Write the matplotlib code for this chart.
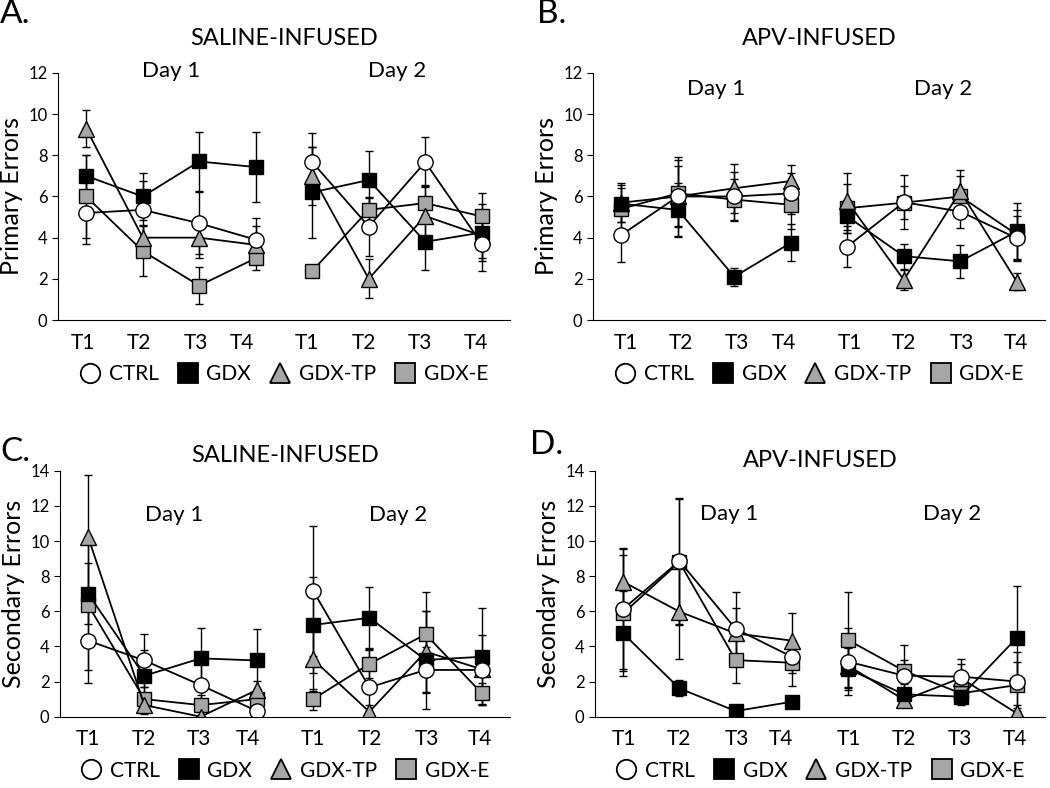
import matplotlib
matplotlib.use("Agg")
import matplotlib.pyplot as plt
from matplotlib.lines import Line2D

plt.rcParams['font.family'] = ['Lato', 'DejaVu Sans']

# trial labels and groups
trials = ["T1", "T2", "T3", "T4", "T1", "T2", "T3", "T4"]
groups = ["CTRL", "GDX", "GDX-TP", "GDX-E"]

# A. primary errors, saline
a_ctrl = [5.2, 5.35, 4.7, 3.9, 7.67, 4.54, 7.67, 3.7]
a_ctrl_err = [1.5, 1.4, 1.5, 1.05, 1.4, 1.45, 1.2, 1.3]
a_gdx = [7.0, 6.0, 7.7, 7.43, 6.2, 6.8, 3.8, 4.25]
a_gdx_err = [1.0, 1.15, 1.43, 1.7, 2.2, 1.4, 1.35, 1.4]
a_tp = [9.3, 4.0, 4.0, 3.65, 7.0, 2.0, 5.05, 4.1]
a_tp_err = [0.9, 0.6, 1.0, 0.9, 1.4, 0.95, 1.5, 1.1]
a_e = [6.0, 3.35, 1.67, 3.0, 2.38, 5.35, 5.68, 5.03]
a_e_err = [2.0, 1.2, 0.9, 0.55, 0.25, 0.6, 0.85, 1.15]

# B. primary errors, APV
b_ctrl = [4.13, 6.0, 6.0, 6.15, 3.57, 5.72, 5.27, 3.97]
b_ctrl_err = [1.3, 1.5, 1.2, 1.0, 1.0, 1.3, 0.8, 1.1]
b_gdx = [5.65, 5.35, 2.1, 3.75, 5.03, 3.1, 2.85, 4.3]
b_gdx_err = [0.9, 1.3, 0.45, 0.9, 0.8, 0.6, 0.8, 1.4]
b_tp = [5.7, 6.0, 6.4, 6.75, 5.76, 1.95, 6.25, 1.86]
b_tp_err = [0.95, 1.9, 1.2, 0.8, 1.4, 0.5, 1.05, 0.4]
b_e = [5.4, 6.15, 5.85, 5.6, 5.43, 5.7, 6.0, 4.15]
b_e_err = [1.0, 1.6, 1.0, 1.2, 1.2, 0.8, 1.0, 1.2]

# C. secondary errors, saline
c_ctrl = [4.33, 3.2, 1.8, 0.32, 7.17, 1.67, 2.66, 2.66]
c_ctrl_err = [2.4, 1.5, 1.2, 0.3, 3.7, 2.2, 1.3, 2.0]
c_gdx = [7.0, 2.33, 3.32, 3.2, 5.22, 5.63, 3.23, 3.41]
c_gdx_err = [1.75, 1.45, 1.75, 1.8, 2.75, 1.73, 2.8, 2.75]
c_tp = [10.24, 0.66, 0.0, 1.52, 3.26, 0.28, 3.7, 2.7]
c_tp_err = [3.5, 0.5, 0.0, 0.5, 1.8, 0.4, 2.3, 0.4]
c_e = [6.36, 1.0, 0.66, 1.0, 1.0, 3.0, 4.69, 1.33]
c_e_err = [3.7, 0.7, 0.6, 0.6, 0.6, 0.8, 2.4, 0.6]

# D. secondary errors, APV
d_ctrl = [6.13, 8.86, 5.0, 3.41, 3.13, 2.33, 2.28, 2.0]
d_ctrl_err = [3.4, 3.6, 2.1, 0.9, 1.9, 1.75, 1.0, 1.7]
d_gdx = [4.74, 1.61, 0.32, 0.85, 2.71, 1.27, 1.14, 4.5]
d_gdx_err = [2.4, 0.45, 0.1, 0.2, 1.2, 0.6, 0.5, 2.95]
d_tp = [7.68, 5.98, 4.74, 4.33, 2.9, 0.95, 2.2, 0.19]
d_tp_err = [1.9, 2.7, 1.45, 1.6, 1.2, 0.4, 0.8, 0.45]
d_e = [5.88, 8.8, 3.22, 3.07, 4.36, 2.6, 1.33, 1.8]
d_e_err = [3.3, 3.6, 1.3, 1.3, 2.75, 0.6, 0.4, 1.3]

GRAY = "#a6a6a6"
styles = {
    "CTRL": dict(marker="o", mfc="white", ms=11),
    "GDX": dict(marker="s", mfc="black", ms=9.5),
    "GDX-TP": dict(marker="^", mfc=GRAY, ms=11),
    "GDX-E": dict(marker="s", mfc=GRAY, ms=9.5),
}


def draw_panel(ax, series, ymax, ylabel, title, letter, tick_pos, day_pos, title_pad, letter_xy):
    # draw order: GDX-E, GDX-TP, GDX, CTRL (CTRL on top)
    for name in ["GDX-E", "GDX-TP", "GDX", "CTRL"]:
        vals, errs = series[name]
        st = styles[name]
        for lo, hi in [(0, 4), (4, 8)]:
            xs = list(range(lo, hi))
            ax.errorbar(xs, vals[lo:hi], yerr=errs[lo:hi], color="black", lw=1.3,
                        ecolor="black", elinewidth=1, capsize=3, capthick=1,
                        marker=st["marker"], mfc=st["mfc"], mec="black", mew=1,
                        ms=st["ms"])
    ax.set_xlim(-0.5, 7.5)
    ax.set_ylim(0, ymax)
    ax.set_yticks(range(0, ymax + 1, 2))
    ax.set_xticks(tick_pos)
    ax.set_xticklabels(trials, fontsize=15)
    ax.tick_params(axis="x", length=0, pad=9)
    ax.tick_params(axis="y", labelsize=12, length=4, direction="out")
    for s in ["top", "right"]:
        ax.spines[s].set_visible(False)
    ax.set_ylabel(ylabel, fontsize=18, labelpad=4)
    ax.set_title(title, fontsize=17, pad=title_pad)
    ax.text(day_pos[0], day_pos[2], "Day 1", fontsize=16, ha="center", va="center")
    ax.text(day_pos[1], day_pos[2], "Day 2", fontsize=16, ha="center", va="center")
    fig.text(letter_xy[0], letter_xy[1], letter, fontsize=24, ha="left", va="center")
    handles = [Line2D([], [], ls="none", marker=styles[g]["marker"], mfc=styles[g]["mfc"],
                      mec="black", mew=1.3, ms=14) for g in groups]
    ax.legend(handles, groups, loc="upper center", bbox_to_anchor=(0.5, -0.145), ncol=4,
              frameon=False, fontsize=15, handletextpad=0.4, columnspacing=0.9,
              handlelength=1.0, borderaxespad=0.0)


fig = plt.figure(figsize=(10.5, 7.88), dpi=100)

axA = fig.add_axes([0.0552, 0.5939, 0.4305, 0.3135])
axB = fig.add_axes([0.5648, 0.5939, 0.4305, 0.3135])
axC = fig.add_axes([0.0571, 0.0905, 0.4286, 0.3121])
axD = fig.add_axes([0.5667, 0.0905, 0.4286, 0.3121])

draw_panel(axA, {"CTRL": (a_ctrl, a_ctrl_err), "GDX": (a_gdx, a_gdx_err),
                 "GDX-TP": (a_tp, a_tp_err), "GDX-E": (a_e, a_e_err)},
           12, "Primary Errors", "SALINE-INFUSED", "A.",
           [-0.05, 0.94, 1.95, 2.76, 3.91, 4.92, 5.91, 6.9], (1.5, 5.5, 12.1), 20, (0.0, 0.982))
draw_panel(axB, {"CTRL": (b_ctrl, b_ctrl_err), "GDX": (b_gdx, b_gdx_err),
                 "GDX-TP": (b_tp, b_tp_err), "GDX-E": (b_e, b_e_err)},
           12, "Primary Errors", "APV-INFUSED", "B.",
           [0.09, 1.06, 2.05, 2.87, 4.04, 5.01, 6.02, 6.99], (1.68, 5.7, 11.2), 20, (0.511, 0.982))
draw_panel(axC, {"CTRL": (c_ctrl, c_ctrl_err), "GDX": (c_gdx, c_gdx_err),
                 "GDX-TP": (c_tp, c_tp_err), "GDX-E": (c_e, c_e_err)},
           14, "Secondary Errors", "SALINE-INFUSED", "C.",
           [0.0, 1.0, 1.97, 2.84, 4.0, 5.01, 6.02, 6.96], (1.53, 5.52, 11.5), 6, (0.0, 0.426))
draw_panel(axD, {"CTRL": (d_ctrl, d_ctrl_err), "GDX": (d_gdx, d_gdx_err),
                 "GDX-TP": (d_tp, d_tp_err), "GDX-E": (d_e, d_e_err)},
           14, "Secondary Errors", "APV-INFUSED", "D.",
           [0.02, 1.0, 2.02, 2.81, 4.02, 4.99, 5.98, 6.97], (1.88, 5.84, 11.55), 1, (0.505, 0.435))

plt.savefig("out.png", dpi=100)
